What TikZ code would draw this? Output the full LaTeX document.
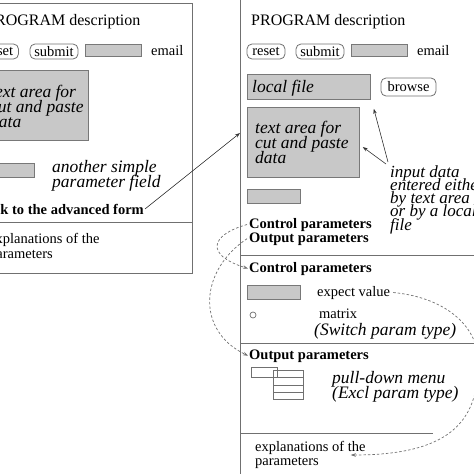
\documentclass[tikz,border=0pt]{standalone}
\usepackage{fontspec}
\setmainfont{Liberation Serif}
\usetikzlibrary{arrows.meta}
\definecolor{ln}{RGB}{112,112,112}
\definecolor{fieldfill}{RGB}{200,200,200}
\definecolor{fieldline}{RGB}{120,120,120}
\newcommand{\mytightlines}{\lineskiplimit=-50pt\relax\lineskip=0pt\relax}
\tikzset{
 panel/.style={draw=ln, line width=0.9pt},
 field/.style={draw=fieldline, fill=fieldfill, line width=0.8pt, inner sep=0pt, anchor=north west},
 btn/.style={draw=ln, rounded corners=5pt, line width=0.8pt, inner sep=0pt, minimum height=15pt, font=\fontsize{14.5}{15}\selectfont},
 rtext/.style={inner sep=0pt, anchor=base west, align=left, font=\fontsize{14.5}{15}\selectfont\mytightlines},
 ttext/.style={inner sep=0pt, anchor=base west, font=\fontsize{16}{17}\selectfont},
 btext/.style={inner sep=0pt, anchor=base west, font=\fontsize{14.5}{15}\selectfont\bfseries},
 itext/.style={inner sep=0pt, anchor=base west, align=left, font=\fontsize{17.5}{15}\selectfont\itshape\mytightlines},
 ntext/.style={itext, font=\fontsize{17}{14}\selectfont\itshape},
 arr/.style={draw=black!80, line width=0.6pt, -{Stealth[length=5pt,width=3.5pt]}},
 darr/.style={draw=ln, line width=0.7pt, dash pattern=on 2.5pt off 2pt, -{Stealth[length=5pt,width=3.5pt]}},
 icon/.style={draw=ln, line width=0.7pt},
}
\begin{document}
\begin{tikzpicture}[x=1pt,y=-1pt]
\useasboundingbox (0,0) rectangle (474,474);
\clip (0,0) rectangle (474,474);
% ---------- left panel ----------
\draw[panel] (-25,3) rectangle (192,273);
\draw[panel] (-25,222) -- (192,222);
\node[ttext] (ltitle) at (-14,25) {PROGRAM description};
\node[btn, minimum width=38pt] (lreset) at (-0.5,51.5) {reset};
\node[btn, minimum width=48pt] (lsubmit) at (54,51.5) {submit};
\node[field, minimum width=56pt, minimum height=12pt] (lemail) at (85,44) {};
\node[rtext] (lemailt) at (151,55) {email};
\node[field, minimum width=106pt, minimum height=70pt] (lta) at (-18,70) {};
\node[itext] (ltat) at (-10,127) {text area for\\cut and paste\\data};
\node[field, minimum width=53pt, minimum height=14pt] (lsf) at (-19,163) {};
\node[itext] (lsft) at (52,187.5) {another simple\\parameter field};
\node[btext, anchor=base east] (link) at (144,214) {Link to the advanced form};
\node[rtext] (lexp) at (-11,258) {explanations of the\\parameters};
% ---------- right panel ----------
\draw[panel] (240,-10) -- (240,484);
\draw[panel] (240,255) -- (484,255);
\draw[panel] (240,343) -- (484,343);
\draw[panel] (240,433) -- (433,433);
\node[ttext] (rtitle) at (251,25) {PROGRAM description};
\node[btn, minimum width=38pt] (rreset) at (266,51.5) {reset};
\node[btn, minimum width=48pt] (rsubmit) at (320,51.5) {submit};
\node[field, minimum width=56pt, minimum height=12pt] (remail) at (351,44) {};
\node[rtext] (remailt) at (417,55) {email};
\node[field, minimum width=123pt, minimum height=25pt] (lf) at (247,74) {};
\node[itext] (lft) at (252,92) {local file};
\node[btn, minimum width=55pt, minimum height=18pt] (browse) at (408.5,87) {browse};
\node[field, minimum width=112pt, minimum height=70pt] (rta) at (247,107) {};
\node[itext] (rtat) at (255,163.5) {text area for\\cut and paste\\data};
\node[field, minimum width=53pt, minimum height=14pt] (rsf) at (247,189) {};
\node[ntext] (inp1) at (390,177) {input data};
\node[ntext] (inp2) at (390,190.3) {entered either};
\node[ntext] (inp3) at (390,203.6) {by text area};
\node[ntext] (inp4) at (390,216.9) {or by a local};
\node[ntext] (inp5) at (390,230.2) {file};
\node[btext] (ctrl1) at (249,228) {Control parameters};
\node[btext] (out1) at (249,242) {Output parameters};
\node[btext] (ctrl2) at (249,272) {Control parameters};
\node[field, minimum width=53pt, minimum height=14pt] (evf) at (247,285) {};
\node[rtext] (ev) at (317,296) {expect value};
\node[circle, draw=ln, line width=0.7pt, inner sep=0pt, minimum size=6pt] (rad) at (253,315) {};
\node[rtext] (mat) at (319,318) {matrix};
\node[itext] (sw) at (314,335) {(Switch param type)};
\node[btext] (out2) at (249,359) {Output parameters};
\draw[icon] (251,367) rectangle (277,377);
\draw[icon] (273,370) rectangle (303,399);
\draw[icon] (273,377) -- (303,377) (273,385) -- (303,385) (273,392) -- (303,392);
\node[itext] (pd) at (332,398.5) {pull-down menu\\(Excl param type)};
\node[rtext] (rexp1) at (255,451) {explanations of the};
\node[rtext] (rexp2) at (255,465) {parameters};
% ---------- connectors ----------
\coordinate (linktip) at (240,133);
\draw[arr] ([xshift=1pt]link.east) -- (linktip);
\draw[arr] ([shift={(-2,-3)}]inp1.north west) -- ([shift={(3,9)}]lf.south east);
\draw[arr] ([shift={(-4,-1)}]inp1.north west) -- ([shift={(3,0)}]rta.east |- 0,147);
\draw[darr] ([xshift=-2pt]ctrl1.west) .. controls (210,235) and (205,255) .. ([xshift=-1pt]ctrl2.west);
\draw[darr] ([xshift=-2pt]out1.west) .. controls (200,270) and (195,330) .. ([xshift=-1pt]out2.west);
\draw[darr] ([xshift=3pt]ev.east) .. controls (450,298) and (478,330) .. (478,360) .. controls (480,425) and (445,455) .. ([shift={(-15,4)}]rexp1.base east);
\end{tikzpicture}
\end{document}
